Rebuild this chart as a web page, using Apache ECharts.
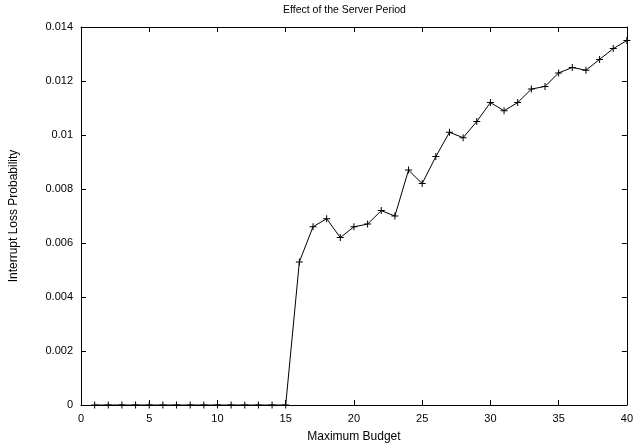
<!DOCTYPE html>
<html>
<head>
<meta charset="utf-8">
<script src="https://cdn.jsdelivr.net/npm/echarts@6/dist/echarts.min.js"></script>
<style>html,body{margin:0;padding:0;background:#fff;}#c{width:636px;height:448px;}</style>
</head>
<body>
<div id="c"></div>
<script>
const budgets = [1,2,3,4,5,6,7,8,9,10,11,12,13,14,15,16,17,18,19,20,21,22,23,24,25,26,27,28,29,30,31,32,33,34,35,36,37,38,39,40];
const lossProb = [0,0,0,0,0,0,0,0,0,0,0,0,0,0,0,
  0.0053,0.0066,0.0069,0.0062,0.0066,0.0067,0.0072,0.0070,0.0087,0.0082,
  0.0092,0.0101,0.0099,0.0105,0.0112,0.0109,0.0112,0.0117,0.0118,0.0123,
  0.0125,0.0124,0.0128,0.0132,0.0135];
const titleText = 'Effect of the Server Period';
const xName = 'Maximum Budget';
const yName = 'Interrupt Loss Probability';

const font = 'Liberation Sans, Arial, Helvetica, sans-serif';
const chart = echarts.init(document.getElementById('c'), null, {renderer: 'canvas'});
const tickStyle = {show: true, inside: true, length: 5, lineStyle: {color: '#000', width: 1}};
const lineStyle = {show: true, onZero: false, lineStyle: {color: '#000', width: 1}};
chart.setOption({
  animation: false,
  backgroundColor: '#fff',
  title: {text: titleText, left: 278, top: 0,
    textStyle: {fontFamily: font, fontSize: 10.5, fontWeight: 'normal', color: '#000'}},
  grid: {left: 81, right: 6, top: 27, bottom: 43, show: false},
  xAxis: [{
    type: 'value', min: 0, max: 40, interval: 5, position: 'bottom',
    name: xName, nameLocation: 'middle', nameGap: 26,
    nameTextStyle: {fontFamily: font, fontSize: 12, color: '#000'},
    axisLine: lineStyle, axisTick: tickStyle, splitLine: {show: false},
    axisLabel: {fontFamily: font, fontSize: 11, color: '#000', margin: 8}
  }, {
    type: 'value', min: 0, max: 40, interval: 5, position: 'top',
    axisLine: lineStyle, axisTick: tickStyle, splitLine: {show: false},
    axisLabel: {show: false}
  }],
  yAxis: [{
    type: 'value', min: 0, max: 0.014, interval: 0.002, position: 'left',
    name: yName, nameLocation: 'middle', nameGap: 61, nameRotate: 90,
    nameTextStyle: {fontFamily: font, fontSize: 12, color: '#000'},
    axisLine: lineStyle, axisTick: tickStyle, splitLine: {show: false},
    axisLabel: {fontFamily: font, fontSize: 11, color: '#000', margin: 8}
  }, {
    type: 'value', min: 0, max: 0.014, interval: 0.002, position: 'right',
    axisLine: lineStyle, axisTick: tickStyle, splitLine: {show: false},
    axisLabel: {show: false}
  }],
  series: [{
    type: 'line',
    data: budgets.map((b, i) => [b, lossProb[i]]),
    symbol: 'path://M3,0h1v3h3v1h-3v3h-1v-3h-3v-1h3z',
    symbolSize: 7,
    showAllSymbol: true,
    itemStyle: {color: '#000'},
    lineStyle: {color: '#000', width: 1},
    clip: false
  }]
});
</script>
</body>
</html>
